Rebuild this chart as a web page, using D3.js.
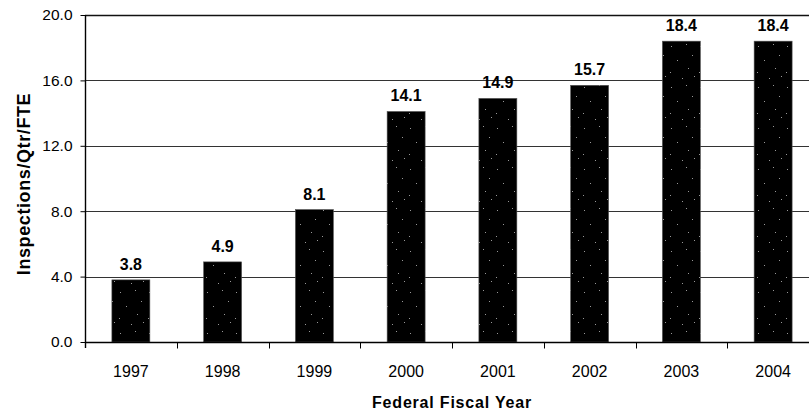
<!DOCTYPE html>
<html>
<head>
<meta charset="utf-8">
<script src="https://cdn.jsdelivr.net/npm/d3@7/dist/d3.min.js"></script>
<style>
  html, body { margin: 0; padding: 0; background: #fff; }
  svg { display: block; font-family: Arial, "Liberation Sans", sans-serif; }
</style>
</head>
<body>
<svg id="chart" width="809" height="416"></svg>
<script>
// Inspections per quarter per FTE, by federal fiscal year
const years = ["1997", "1998", "1999", "2000", "2001", "2002", "2003", "2004"];
const values = [3.8, 4.9, 8.1, 14.1, 14.9, 15.7, 18.4, 18.4];
const yTicks = [0, 4, 8, 12, 16, 20];

const svg = d3.select("#chart");
const plotLeft = 85, plotRight = 819, plotTop = 15, plotBottom = 342;

const x = d3.scaleBand().domain(years).range([plotLeft, plotRight]).padding(0);
const y = d3.scaleLinear().domain([0, 20]).range([plotBottom, plotTop]);
const barFrac = 0.414;
const barW = x.bandwidth() * barFrac;

// sparse speckled fill for the bars
const defs = svg.append("defs");
const pat = defs.append("pattern")
  .attr("id", "speckle").attr("patternUnits", "userSpaceOnUse")
  .attr("width", 29).attr("height", 41);
pat.append("rect").attr("width", 29).attr("height", 41).attr("fill", "#000");
const dots = [[4, 5], [19, 3], [25, 14], [10, 19], [3, 31], [21, 27], [15, 37], [27, 35]];
pat.selectAll("rect.d").data(dots).join("rect").attr("class", "d")
  .attr("x", d => d[0]).attr("y", d => d[1]).attr("width", 1).attr("height", 1)
  .attr("fill", "#fff").attr("opacity", 0.6);

// horizontal gridlines
svg.append("g").selectAll("line").data(yTicks.filter(t => t > 0)).join("line")
  .attr("x1", plotLeft).attr("x2", 809)
  .attr("y1", d => Math.round(y(d)) + 0.5).attr("y2", d => Math.round(y(d)) + 0.5)
  .attr("stroke", d => d === 20 ? "#111" : "#333")
  .attr("stroke-width", d => d === 20 ? 1.6 : 1);

// bars
svg.append("g").selectAll("rect").data(values).join("rect")
  .attr("x", (d, i) => x(years[i]) + (x.bandwidth() - barW) / 2)
  .attr("y", d => y(d))
  .attr("width", barW)
  .attr("height", d => y(0) - y(d))
  .attr("fill", "url(#speckle)")
  .attr("stroke", "#555").attr("stroke-width", 0.6);

// value labels
svg.append("g").selectAll("text").data(values).join("text")
  .attr("x", (d, i) => x(years[i]) + x.bandwidth() / 2)
  .attr("y", d => y(d) - 10)
  .attr("text-anchor", "middle")
  .attr("font-weight", "bold").attr("font-size", 16)
  .attr("fill", "#000")
  .text(d => d.toFixed(1));

// y axis
const yAxis = d3.axisLeft(y).tickValues(yTicks).tickSize(5).tickPadding(8)
  .tickFormat(d3.format(".1f"));
const gy = svg.append("g").attr("transform", `translate(${plotLeft + 0.5},0)`).call(yAxis);
gy.select(".domain").attr("stroke", "#000").attr("stroke-width", 1.4)
  .attr("d", `M0,${plotTop}V${plotBottom + 6}`);
gy.selectAll(".tick line").attr("stroke", "#000");
gy.selectAll(".tick text").attr("font-size", 15.5).attr("fill", "#000")
  .attr("font-family", "Arial, 'Liberation Sans', sans-serif");

// x axis with ticks between categories
const gx = svg.append("g").attr("transform", `translate(0,${plotBottom + 0.5})`);
gx.append("line").attr("x1", plotLeft).attr("x2", 809).attr("y1", 0).attr("y2", 0)
  .attr("stroke", "#000").attr("stroke-width", 1.6);
gx.selectAll("line.sep").data(years.slice(1)).join("line").attr("class", "sep")
  .attr("x1", d => Math.round(x(d)) + 0.5).attr("x2", d => Math.round(x(d)) + 0.5)
  .attr("y1", 0).attr("y2", 6).attr("stroke", "#000");
gx.selectAll("text").data(years).join("text")
  .attr("x", d => x(d) + x.bandwidth() / 2)
  .attr("y", 34)
  .attr("text-anchor", "middle")
  .attr("font-size", 16).attr("fill", "#000")
  .text(d => d);

// axis titles
svg.append("text")
  .attr("transform", "translate(30,184) rotate(-90)")
  .attr("text-anchor", "middle")
  .attr("font-weight", "bold").attr("font-size", 18).attr("letter-spacing", 0.6)
  .attr("fill", "#000")
  .text("Inspections/Qtr/FTE");

svg.append("text")
  .attr("x", 452).attr("y", 408)
  .attr("text-anchor", "middle")
  .attr("font-weight", "bold").attr("font-size", 16).attr("letter-spacing", 0.8)
  .attr("fill", "#000")
  .text("Federal Fiscal Year");
</script>
</body>
</html>
